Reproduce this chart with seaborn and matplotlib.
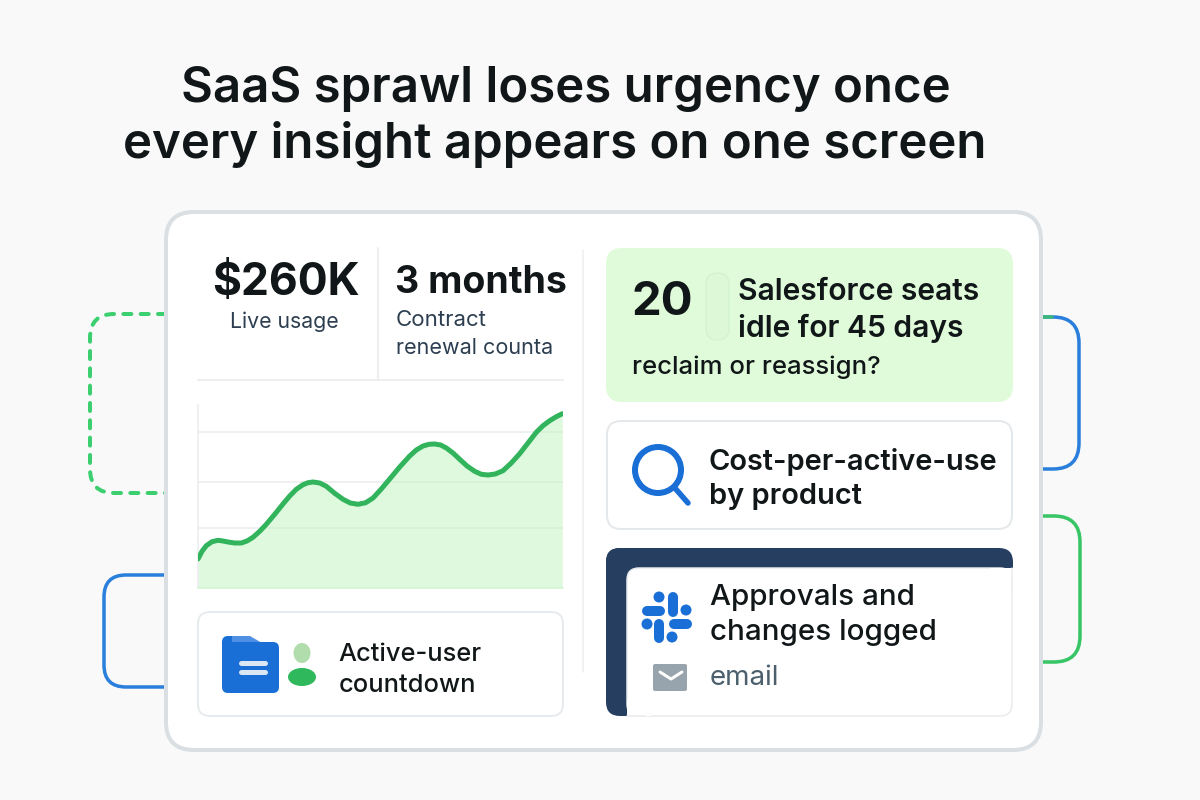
import pandas as pd
import matplotlib
matplotlib.use("Agg")
import matplotlib.pyplot as plt
from matplotlib.patches import FancyBboxPatch, PathPatch, Circle, Ellipse, Rectangle, Polygon
from matplotlib.path import Path
import seaborn as sns

# values
usage_x = [0, 4, 8.3, 14, 20, 25, 30, 36.7, 43.3, 49, 55, 61.7, 68.3, 76.7, 85, 91.7, 98.3, 105,
           110, 115, 121.7, 128.3, 136.7, 145, 152.3, 160, 167.7, 175, 183.3, 191.7, 201.7, 211.7,
           218.3, 225, 231, 236.7, 242.7, 248.3, 255, 261.7, 269, 276.7, 283.3, 290, 297.3, 305,
           313.3, 321.7, 330, 338.3, 345, 351.7, 358.3, 364.3]
usage_y = [29, 36.7, 42.3, 46.3, 47.7, 47, 46, 45, 45, 47, 50.7, 56.7, 63.7, 73.7, 84, 92, 98.7, 103.3,
           105.3, 106, 105, 101.7, 94.7, 88.7, 85, 83.7, 85.3, 90, 99, 109, 121, 132,
           138, 142, 143.7, 144, 143, 140, 135, 128.7, 122, 116.7, 113.7, 113, 114, 117.3,
           125, 134.3, 145, 155.7, 162.3, 167.3, 171.3, 174.3]
grid_y = [60, 106, 156]

title_lines = ["SaaS sprawl loses urgency once", "every insight appears on one screen"]
kpi_value = "$260K"
kpi_label = "Live usage"
renewal_value = "3 months"
renewal_label = ["Contract", "renewal counta"]
idle_count = "20"
idle_text = ["Salesforce seats", "idle for 45 days"]
idle_question = "reclaim or reassign?"
cost_text = ["Cost-per-active-use", "by product"]
active_text = ["Active-user", "countdown"]
log_text = ["Approvals and", "changes logged"]
email_text = "email"

BG = "#f8f9f8"
GREEN = "#2fb85c"
BLUE = "#1a6fd6"
NAVY = "#263e60"
INK = "#111718"

sns.set_theme(style="white")
plt.rcParams["font.family"] = ["Inter", "DejaVu Sans"]


# px is a line width in picture pixels
def px(w):
    return w * 0.72


def box(ax, x0, y0, x1, y1, r, fc="white", ec="none", lw=0, z=2):
    p = FancyBboxPatch((x0 + r, y0 + r), x1 - x0 - 2 * r, y1 - y0 - 2 * r,
                       boxstyle=f"round,pad={r},rounding_size={r}",
                       fc=fc, ec=ec, lw=px(lw), zorder=z)
    ax.add_patch(p)
    return p


def bracket(ax, x_open, x_far, y0, y1, r, color, lw=3.5, dashes=None):
    s = 1 if x_far > x_open else -1
    verts = [(x_open, y0), (x_far - s * r, y0), (x_far, y0), (x_far, y0 + r),
             (x_far, y1 - r), (x_far, y1), (x_far - s * r, y1), (x_open, y1)]
    codes = [Path.MOVETO, Path.LINETO, Path.CURVE3, Path.CURVE3,
             Path.LINETO, Path.CURVE3, Path.CURVE3, Path.LINETO]
    patch = PathPatch(Path(verts, codes), fc="none", ec=color, lw=px(lw), zorder=1)
    if dashes:
        patch.set_linestyle((0, dashes))
        patch.set_capstyle("round")
    ax.add_patch(patch)


def pill(ax, x0, y0, x1, y1, color, lw):
    ax.plot([x0, x1], [y0, y1], color=color, lw=px(lw), solid_capstyle="round", zorder=4)


fig = plt.figure(figsize=(12, 8), dpi=100, facecolor=BG)
ax = fig.add_axes([0, 0, 1, 1], facecolor=BG)
ax.set_xlim(0, 1200)
ax.set_ylim(800, 0)
ax.axis("off")

# title
ax.text(566, 102, title_lines[0], ha="center", va="baseline", fontsize=35.4, fontweight="semibold", color=INK)
ax.text(555, 158, title_lines[1], ha="center", va="baseline", fontsize=35.4, fontweight="semibold", color=INK)

# connectors behind the card
bracket(ax, 166, 90, 314, 493, 24, "#3ccf70", lw=4, dashes=(2, 2.33))
bracket(ax, 166, 104, 575, 687, 22, "#2b7fdc")
bracket(ax, 1040, 1079, 317, 469, 26, "#2b7fdc")
ax.plot([1041, 1052], [317, 317], color="#3bb87a", lw=px(3.5), zorder=1)
bracket(ax, 1040, 1080, 516, 662, 26, "#37c566")

# main card
box(ax, 166, 212, 1041, 750, 28, fc="white", ec="#d9dfe3", lw=4)

# dividers
ax.plot([583, 583], [250, 672], color="#eceef0", lw=px(1.5), zorder=3)
ax.plot([378, 378], [248, 380], color="#eceef0", lw=px(2), zorder=3)
ax.plot([198, 563], [380, 380], color="#eceef0", lw=px(2), zorder=3)

# kpis
ax.text(286, 295, kpi_value, ha="center", va="baseline", fontsize=32, fontweight="bold", color=INK, zorder=5)
ax.text(284, 328, kpi_label, ha="center", va="baseline", fontsize=15.3, color="#2c3e50", zorder=5)
ax.text(395, 293, renewal_value, va="baseline", fontsize=27, fontweight="bold", color=INK, zorder=5)
ax.text(396, 326, renewal_label[0], va="baseline", fontsize=16, color="#2c3e50", zorder=5)
ax.text(396, 354, renewal_label[1], va="baseline", fontsize=15.5, color="#2c3e50", zorder=5)

# usage chart
chart = fig.add_axes([198 / 1200, 1 - 588 / 800, 365 / 1200, 183 / 800], facecolor="none", zorder=2)
df = pd.DataFrame({"x": usage_x, "y": usage_y})
chart.fill_between(df["x"], df["y"], color="#c5f5c3", alpha=0.55, lw=0, zorder=1)
sns.lineplot(data=df, x="x", y="y", ax=chart, color="#32b45c", lw=px(5), zorder=3)
chart.set_xlim(0, 365)
chart.set_ylim(0, 183)
chart.set_yticks(grid_y)
chart.set_xticks([])
chart.tick_params(left=False, labelleft=False)
chart.set_xlabel("")
chart.set_ylabel("")
chart.grid(axis="y", color="#e9ecee", lw=px(1.5), zorder=0)
chart.set_axisbelow(True)
for side in ["top", "right"]:
    chart.spines[side].set_visible(False)
chart.spines["left"].set_color("#e9ecee")
chart.spines["left"].set_linewidth(px(1.5))
chart.spines["bottom"].set_color("#d5f3d3")
chart.spines["bottom"].set_linewidth(px(1.5))

# active-user card
box(ax, 198, 612, 563, 716, 12, ec="#e8ebed", lw=2)
box(ax, 222, 636, 250, 660, 6, fc=BLUE, z=3)
ax.add_patch(Polygon([(232, 636), (250, 636), (262, 643), (262, 650), (232, 650)], fc="#4f90e4", ec="none", zorder=3))
box(ax, 222, 642, 279, 693, 6, fc=BLUE, z=4)
pill(ax, 241, 663, 265, 663, "#dbe7f3", 5)
pill(ax, 241, 672, 265, 672, "#dbe7f3", 5)
ax.add_patch(Ellipse((302, 653), 17, 20, fc="#b1dcab", ec="none", zorder=4))
ax.add_patch(Ellipse((302, 677), 28, 18, fc=GREEN, ec="none", zorder=4))
ax.text(338, 661, active_text[0], va="baseline", fontsize=18.3, fontweight="medium", color=INK, zorder=5)
ax.text(339, 692, active_text[1], va="baseline", fontsize=18.3, fontweight="medium", color=INK, zorder=5)

# idle seats card
box(ax, 606, 248, 1013, 402, 16, fc="#e0fbd9")
box(ax, 706, 273, 729, 340, 11, fc="#dcf8d6", ec="#d0f1cb", lw=1, z=3)
ax.text(632, 315, idle_count, va="baseline", fontsize=34, fontweight="bold", color=INK, zorder=5)
ax.text(738, 300, idle_text[0], va="baseline", fontsize=21.6, fontweight="semibold", color=INK, zorder=5)
ax.text(738, 337, idle_text[1], va="baseline", fontsize=21.6, fontweight="semibold", color=INK, zorder=5)
ax.text(632, 374, idle_question, va="baseline", fontsize=18.5, fontweight="medium", color=INK, zorder=5)

# cost card
box(ax, 607, 421, 1012, 529, 14, ec="#e5e8ea", lw=2)
ax.add_patch(Circle((658, 470), 23, fc="none", ec=BLUE, lw=px(6), zorder=4))
ax.plot([674, 688], [487, 503], color=BLUE, lw=px(5.5), solid_capstyle="round", zorder=4)
ax.text(709, 470, cost_text[0], va="baseline", fontsize=20.9, fontweight="semibold", color=INK, zorder=5)
ax.text(709, 504, cost_text[1], va="baseline", fontsize=20.9, fontweight="semibold", color=INK, zorder=5)

# log card
box(ax, 606, 548, 1013, 582, 14, fc=NAVY)
box(ax, 606, 548, 650, 716, 14, fc=NAVY)
box(ax, 627, 568, 1012, 716, 12, ec="#e8ebed", lw=1.5, z=3)
ax.add_patch(Rectangle((990, 568), 23.5, 15, fc="white", ec="none", zorder=3))
ax.plot([1012, 1012], [568, 584], color="#e8ebed", lw=px(1.5), zorder=3)
ax.add_patch(Rectangle((627, 700), 24, 15.5, fc="white", ec="none", zorder=3))
ax.plot([627, 645], [716, 716], color="#e8ebed", lw=px(1.5), zorder=3)
pill(ax, 647, 611, 660, 611, BLUE, 10)
pill(ax, 673, 597, 673, 612, BLUE, 10)
pill(ax, 674, 624, 687, 624, BLUE, 10)
pill(ax, 659, 624, 659, 638, BLUE, 10)
for cx, cy in [(659, 597), (686, 610), (647, 624), (672, 637)]:
    ax.add_patch(Circle((cx, cy), 5.5, fc=BLUE, ec="none", zorder=4))
box(ax, 653, 664, 687, 691, 2, fc="#98a4ad", z=4)
ax.plot([660, 671, 682], [672, 679, 672], color="white", lw=px(3), zorder=5)
ax.text(710, 605, log_text[0], va="baseline", fontsize=21.3, fontweight="medium", color=INK, zorder=5)
ax.text(710, 640, log_text[1], va="baseline", fontsize=21.3, fontweight="medium", color=INK, zorder=5)
ax.text(710, 685, email_text, va="baseline", fontsize=20, color="#4b5f6c", zorder=5)

fig.savefig("out.png", dpi=100, facecolor=BG)
